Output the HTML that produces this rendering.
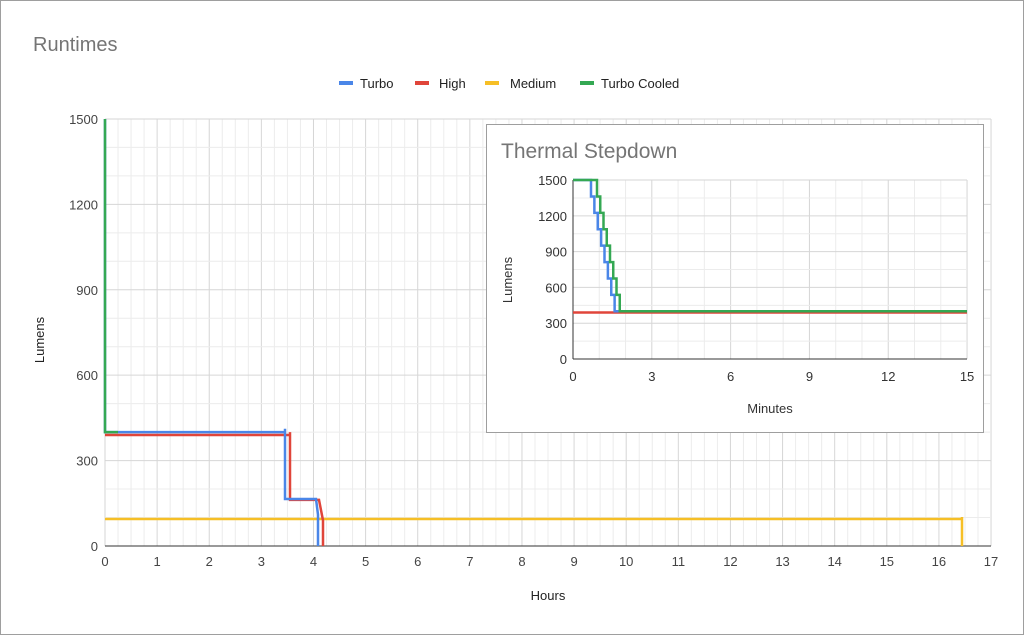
<!DOCTYPE html>
<html><head><meta charset="utf-8"><style>body{margin:0;background:#fff}svg{display:block;font-family:"Liberation Sans",Arial,sans-serif}</style></head><body>
<svg width="1024" height="635" viewBox="0 0 1024 635">
<rect x="0.5" y="0.5" width="1023" height="634" fill="#fff" stroke="#9e9e9e"/>
<text x="33" y="51" font-size="20" fill="#757575">Runtimes</text>
<g font-size="13" fill="#222">
<rect x="339" y="81" width="14" height="4" fill="#4a86e8"/><text x="360" y="88">Turbo</text>
<rect x="415" y="81" width="14" height="4" fill="#e0453a"/><text x="439" y="88">High</text>
<rect x="485" y="81" width="14" height="4" fill="#f6bf26"/><text x="510" y="88">Medium</text>
<rect x="580" y="81" width="14" height="4" fill="#34a853"/><text x="601" y="88">Turbo Cooled</text>
</g>
<g id="main"></g>
<text x="548" y="600" font-size="13" text-anchor="middle" fill="#222">Hours</text>
<text transform="translate(44,340) rotate(-90)" font-size="13" text-anchor="middle" fill="#222">Lumens</text>
<script>
var ns="http://www.w3.org/2000/svg",g=document.getElementById("main");
function el(t,a,p){var e=document.createElementNS(ns,t);for(var k in a)e.setAttribute(k,a[k]);(p||g).appendChild(e);return e}
function X(h){return 105+52.12*h}function Y(v){return 546-0.2847*v}
for(var i=0;i<=68;i++){var x=X(i/4);el("line",{x1:x,x2:x,y1:119,y2:546,stroke:i%4?"#ececec":"#d6d6d6","stroke-width":1})}
for(var v=0;v<=1500;v+=100){el("line",{x1:105,x2:991,y1:Y(v),y2:Y(v),stroke:v%300?"#ececec":"#d6d6d6"})}
for(var i=0;i<=17;i++){var t=el("text",{x:X(i),y:566,"font-size":13,"text-anchor":"middle",fill:"#444"});t.textContent=i}
for(var v=0;v<=1500;v+=300){var t=el("text",{x:98,y:Y(v)+5,"font-size":13,"text-anchor":"end",fill:"#444"});t.textContent=v}
el("line",{x1:105,x2:991,y1:546,y2:546,stroke:"#333"});
function pl(pts,c){el("polyline",{points:pts.map(function(p){return p[0]+","+p[1]}).join(" "),fill:"none",stroke:c,"stroke-width":2.5})}
pl([[105,Y(95)],[962,Y(95)],[962,Y(102)],[962,546]],"#f6bf26");
pl([[105,Y(390)],[290,Y(390)],[290,Y(400)],[290,Y(162)],[319,Y(162)],[323,Y(90)],[323,546]],"#e0453a");
pl([[105,119],[105,Y(400)],[285,Y(400)],[285,Y(412)],[285,Y(165)],[316,Y(165)],[318,Y(110)],[318,546]],"#4a86e8");
pl([[105,119],[105,Y(400)],[118,Y(400)]],"#34a853");
el("rect",{x:486.5,y:124.5,width:497,height:308,fill:"#fff",stroke:"#9e9e9e"});
var t=el("text",{x:501,y:158,"font-size":21,fill:"#757575"});t.textContent="Thermal Stepdown";
function x2(m){return 573+26.27*m}function y2(v){return 359-0.1193*v}
for(var i=0;i<=15;i++){el("line",{x1:x2(i),x2:x2(i),y1:180,y2:359,stroke:i%3?"#ececec":"#d6d6d6"})}
for(var v=0;v<=1500;v+=150){el("line",{x1:573,x2:967,y1:y2(v),y2:y2(v),stroke:v%300?"#ececec":"#d6d6d6"})}
for(var i=0;i<=15;i+=3){var t=el("text",{x:x2(i),y:381,"font-size":13,"text-anchor":"middle",fill:"#333"});t.textContent=i}
for(var v=0;v<=1500;v+=300){var t=el("text",{x:567,y:y2(v)+5,"font-size":13,"text-anchor":"end",fill:"#333"});t.textContent=v}
el("line",{x1:573,x2:967,y1:359,y2:359,stroke:"#333"});el("line",{x1:573,x2:573,y1:180,y2:359,stroke:"#333"});
var t=el("text",{x:770,y:413,"font-size":13,"text-anchor":"middle",fill:"#333"});t.textContent="Minutes";
var t=el("text",{transform:"translate(512,280) rotate(-90)","font-size":13,"text-anchor":"middle",fill:"#333"});t.textContent="Lumens";
pl([[573,y2(390)],[967,y2(390)]],"#e0453a");
function stairs(x0,x1,c){var p=[[573,180],[x0,180]],n=8;for(var k=1;k<=n;k++){var x=x0+(x1-x0)*k/n,v=1500-1100*k/n;p.push([x-(x1-x0)/n,y2(v)]);p.push([x,y2(v)])}p.push([x1,y2(400)]);p.push([967,y2(400)]);pl(p,c)}
stairs(591,618,"#4a86e8");stairs(597,623,"#34a853");
</script>
</svg>
</body></html>
